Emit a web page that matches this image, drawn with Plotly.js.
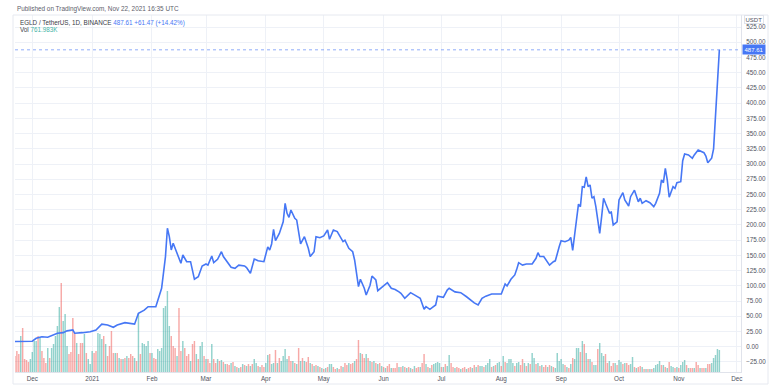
<!DOCTYPE html>
<html>
<head>
<meta charset="utf-8">
<script src="https://cdn.plot.ly/plotly-3.0.1.min.js"></script>
<style>html,body{margin:0;padding:0;background:#fff;}#chart{width:784px;height:388px;}</style>
</head>
<body>
<div id="chart"></div>
<script>
// ---- data ----
const priceDates = ["2020-11-22","2020-12-01","2020-12-03","2020-12-06","2020-12-09","2020-12-14","2020-12-17","2020-12-19","2020-12-22","2020-12-23","2020-12-27","2020-12-31",
"2021-01-03","2021-01-06","2021-01-09","2021-01-12","2021-01-14","2021-01-18","2021-01-23","2021-01-25","2021-01-28","2021-01-30",
"2021-02-03","2021-02-04","2021-02-06","2021-02-08","2021-02-09","2021-02-10","2021-02-11","2021-02-12","2021-02-14","2021-02-16","2021-02-17","2021-02-19","2021-02-21","2021-02-23","2021-02-25","2021-02-27",
"2021-03-01","2021-03-02","2021-03-04","2021-03-05","2021-03-07","2021-03-09","2021-03-10","2021-03-12","2021-03-14","2021-03-16","2021-03-18","2021-03-21","2021-03-22","2021-03-24","2021-03-26","2021-03-28","2021-03-31",
"2021-04-02","2021-04-03","2021-04-04","2021-04-05","2021-04-06","2021-04-08","2021-04-10","2021-04-11","2021-04-12","2021-04-13","2021-04-14","2021-04-16","2021-04-17","2021-04-19","2021-04-21","2021-04-23","2021-04-24","2021-04-26","2021-04-27","2021-04-29",
"2021-05-01","2021-05-03","2021-05-04","2021-05-06","2021-05-08","2021-05-09","2021-05-11","2021-05-12","2021-05-14","2021-05-16","2021-05-17","2021-05-19","2021-05-20","2021-05-22","2021-05-23","2021-05-25","2021-05-26","2021-05-28","2021-05-29",
"2021-06-01","2021-06-03","2021-06-05","2021-06-07","2021-06-09","2021-06-10","2021-06-12","2021-06-15","2021-06-17","2021-06-20","2021-06-22","2021-06-23","2021-06-25","2021-06-28","2021-06-29",
"2021-07-02","2021-07-04","2021-07-05","2021-07-08","2021-07-11","2021-07-14","2021-07-17","2021-07-18","2021-07-20","2021-07-22","2021-07-24","2021-07-27","2021-07-30",
"2021-08-01","2021-08-03","2021-08-04","2021-08-06","2021-08-08","2021-08-09","2021-08-10","2021-08-12","2021-08-14","2021-08-17","2021-08-19","2021-08-20","2021-08-21","2021-08-23","2021-08-25","2021-08-26","2021-08-28","2021-08-29","2021-08-31",
"2021-09-01","2021-09-03","2021-09-05","2021-09-06","2021-09-07","2021-09-08","2021-09-09","2021-09-10","2021-09-11","2021-09-12","2021-09-13","2021-09-14","2021-09-15","2021-09-16","2021-09-17","2021-09-18","2021-09-19","2021-09-21","2021-09-22","2021-09-23","2021-09-24","2021-09-26","2021-09-27","2021-09-28","2021-09-30",
"2021-10-01","2021-10-03","2021-10-04","2021-10-06","2021-10-07","2021-10-09","2021-10-11","2021-10-12","2021-10-13","2021-10-15","2021-10-17","2021-10-19","2021-10-20","2021-10-22","2021-10-23","2021-10-24","2021-10-25","2021-10-26","2021-10-27","2021-10-29","2021-10-30","2021-10-31",
"2021-11-02","2021-11-03","2021-11-04","2021-11-06","2021-11-08","2021-11-09","2021-11-11","2021-11-14","2021-11-15","2021-11-16","2021-11-18","2021-11-19","2021-11-20","2021-11-21","2021-11-22"];
const priceClose = [8.5,9,13.8,16.4,15.4,22,23,26,27.4,22,23,24.6,
27.4,37,35.6,31.8,35.6,39.4,37,54.8,60,65.7,
65.7,76.7,95.9,148,194.5,180.7,158.8,169.8,153,137,150.6,139.6,139.6,110.7,115,132.6,
135.8,134,149,138,143.5,156,148,139.6,130.4,128.8,134,132.6,130,120.6,144,141,139.6,
164,158.8,168.7,192.8,174,186,205,235.5,219,212.5,224.5,211,208,168.7,180.7,161.6,148,156,180.7,179,
181.8,191.7,176.4,191.7,189,183.5,172.5,175,161.6,156,142.4,98.6,110.7,96,85,101,116,109.6,92,
99.7,105,96,94,90,87.7,79.5,88.7,85,79.5,61.4,65.7,61.4,68.5,83,
81,93,96,90,88.7,82,74,72,68.5,79.5,83,86.6,86.6,
86.6,103,99.7,110.7,117.8,127,138,134,135.8,135.8,145.2,154.4,148,148,139.6,134,139.6,141,164,
174,172.5,175,179.6,158,183.5,213.5,234,230,262.8,262,279,262.8,265.6,243.8,246.4,230,186,213.5,243.8,235.5,220,221,200,205,
241,253,241,231,246.4,257,238,243.8,235.5,239.8,236.5,230,235.5,252,273.8,269.4,293,273.8,245.4,262.8,260,269.4,
271,305.5,316.5,315,309.5,315,323,318.7,313,302,309.5,325,385,426.14,487.61];

// daily volume (thousands), first bar 2020-11-22, one bar per day
const volStart = "2020-11-22";
const volumeK = [554,727,623,1246,1522,450,415,346,450,692,
1073,1073,1246,1176,727,484,311,830,484,830,
969,1246,1592,2249,3079,1765,2007,900,623,692,
1868,1349,1003,623,1003,1003,1315,657,450,277,
727,657,727,1349,1315,1142,1246,969,554,900,
1419,657,657,657,484,450,450,484,554,484,
623,554,484,381,2041,623,1003,969,900,1073,
657,657,484,450,796,727,830,2214,2284,2803,
1592,1246,900,830,554,2214,727,1073,830,554,
623,381,969,1073,623,450,900,1038,554,450,
450,311,969,450,311,450,381,415,346,277,
277,242,311,346,208,173,138,173,277,242,
208,277,208,277,450,311,208,173,242,173,
311,588,623,277,311,762,311,484,381,554,
796,450,554,381,381,311,277,830,381,484,
381,346,519,311,277,208,242,208,173,138,
104,138,173,277,277,173,104,138,104,208,
173,311,242,311,277,311,381,450,1107,657,
623,484,623,484,381,346,381,311,277,311,
208,173,138,208,277,138,138,138,311,173,
173,208,173,138,173,138,104,208,138,173,
173,311,623,277,173,138,242,277,311,346,
311,173,173,277,208,588,311,173,138,173,
138,104,138,173,104,138,173,138,242,173,
242,208,208,173,242,311,450,173,208,242,
311,346,208,554,346,311,450,450,311,208,
311,346,242,450,311,208,311,277,657,484,
277,311,208,242,173,242,173,242,208,173,
138,657,381,450,277,242,173,138,277,484,
450,830,830,692,1073,969,657,450,450,346,
242,242,796,1003,657,554,623,311,381,208,
311,311,242,415,346,277,311,311,242,277,
519,173,138,173,208,173,104,104,104,104,
104,138,242,277,381,242,242,173,138,346,
208,173,138,173,138,242,346,415,242,138,
138,138,138,346,242,138,138,138,138,277,
277,311,484,588,796,761.983];
// bar direction: u = close above open (green), d = close below open (red)
const volumeDir = "dddudddduu"+"uududddudu"+"uuuuduuudd"+"dduddduduu"+"udduuududd"+
"ddudududud"+"ddududuuuu"+"dudduuuuuu"+"uddduddudd"+"dudduduudu"+
"dduddududu"+"ddudududud"+"ududuududd"+"uuduududuu"+"uuddududud"+
"uddudududu"+"duduuddudd"+"uddudduddu"+"ddudududud"+"ududdudddu"+
"dududududd"+"uddududuuu"+"ududuuddud"+"dudduddudu"+"duuduuudud"+
"uududuuuud"+"uuddududuu"+"dududdudud"+"uuuuududud"+"uuudududud"+
"uuduuuddud"+"duduududdu"+"ududdududu"+"duuuududud"+"uududuuudu"+
"ddudduddud"+"duuuuu";

const monthTicks = ["2020-12-01","2021-01-01","2021-02-01","2021-03-01","2021-04-01","2021-05-01","2021-06-01","2021-07-01","2021-08-01","2021-09-01","2021-10-01","2021-11-01","2021-12-01"];
const monthLabels = ["Dec","2021","Feb","Mar","Apr","May","Jun","Jul","Aug","Sep","Oct","Nov","Dec"];
const priceTicks = [-25,0,25,50,75,100,125,150,175,200,225,250,275,300,325,350,375,400,425,450,475,500,525];
const lastPrice = 487.61;

// ---- build ----
const volDates = [];
const d0 = new Date(volStart + "T00:00:00Z");
for (let i = 0; i < volumeK.length; i++) {
  const d = new Date(d0.getTime() + i * 86400000);
  volDates.push(d.toISOString().slice(0, 10));
}
const volColors = volumeK.map((v, i) => volumeDir[i] === "u" ? "rgba(38,166,154,0.5)" : "rgba(239,83,80,0.5)");

const FONT = "Liberation Sans, Arial, sans-serif";
const LINE = "#4677f5";
const TXT = "#50535e";

const traces = [
  {type: "bar", x: volDates, y: volumeK, yaxis: "y", marker: {color: volColors, line: {width: 0}}, hoverinfo: "skip"},
  {type: "scatter", mode: "lines", x: priceDates, y: priceClose, yaxis: "y2", line: {color: LINE, width: 1.6}, hoverinfo: "skip"}
];

const PX = (X) => (X - 15) / 726;
const PY = (Y) => (372 - Y) / 357;

const layout = {
  width: 784, height: 388,
  margin: {l: 15, r: 43, t: 15, b: 16, pad: 0},
  paper_bgcolor: "#ffffff", plot_bgcolor: "#ffffff",
  showlegend: false, bargap: 0.25,
  font: {family: FONT, size: 6, color: TXT},
  xaxis: {
    type: "date", range: ["2020-11-22 00:50", "2021-12-03 05:00"],
    tickvals: monthTicks, ticktext: monthLabels, ticks: "",
    tickfont: {size: 6.3, color: TXT}, ticklabelstandoff: 0,
    showgrid: true, gridcolor: "#eef1f7", gridwidth: 1,
    showline: true, linecolor: "#e0e3eb", linewidth: 1, zeroline: false
  },
  yaxis: {range: [0, 12352], visible: false, showgrid: false, zeroline: false, fixedrange: true},
  yaxis2: {
    overlaying: "y", side: "right", range: [-41.6, 544.8],
    tickvals: priceTicks, tickformat: ".2f", ticks: "",
    tickfont: {size: 6.3, color: TXT}, ticklabelstandoff: 3,
    showgrid: true, gridcolor: "#eef1f7", gridwidth: 1,
    showline: true, linecolor: "#e0e3eb", linewidth: 1, zeroline: false
  },
  shapes: [
    {type: "rect", xref: "paper", yref: "paper", x0: PX(13), x1: PX(768), y0: PY(384), y1: PY(15), line: {color: "#e6e9f0", width: 1}},
    {type: "line", xref: "paper", yref: "y2", x0: 0, x1: 1, y0: lastPrice, y1: lastPrice, line: {color: "rgba(70,119,245,0.6)", width: 1, dash: "dot"}}
  ],
  annotations: [
    {xref: "paper", yref: "paper", x: PX(15), y: PY(9), xanchor: "left", yanchor: "middle", showarrow: false,
     text: "Published on TradingView.com, Nov 22, 2021 16:35 UTC", font: {size: 6.4, color: "#5d606b"}},
    {xref: "paper", yref: "paper", x: PX(18), y: PY(22.5), xanchor: "left", yanchor: "middle", showarrow: false,
     text: "EGLD / TetherUS, 1D, BINANCE <span style='color:#4677f5'>487.61 +61.47 (+14.42%)</span>", font: {size: 6.3, color: "#3a3d47"}},
    {xref: "paper", yref: "paper", x: PX(18), y: PY(30), xanchor: "left", yanchor: "middle", showarrow: false,
     text: "Vol <span style='color:#3fb3a6'>761.983K</span>", font: {size: 6.3, color: "#3a3d47"}},
    {xref: "paper", yref: "paper", x: PX(754), y: PY(19.5), xanchor: "center", yanchor: "middle", showarrow: false,
     text: "USDT", font: {size: 6, color: TXT}, bgcolor: "#ffffff", bordercolor: "#e0e3eb", borderwidth: 1, borderpad: 0.5},
    {xref: "paper", yref: "y2", x: 1, y: lastPrice, xanchor: "left", yanchor: "middle", showarrow: false,
     text: lastPrice.toFixed(2), font: {size: 6, color: "#ffffff"}, bgcolor: LINE, borderpad: 1.5, xshift: 1}
  ]
};

Plotly.newPlot("chart", traces, layout, {staticPlot: true, displayModeBar: false});
</script>
</body>
</html>
